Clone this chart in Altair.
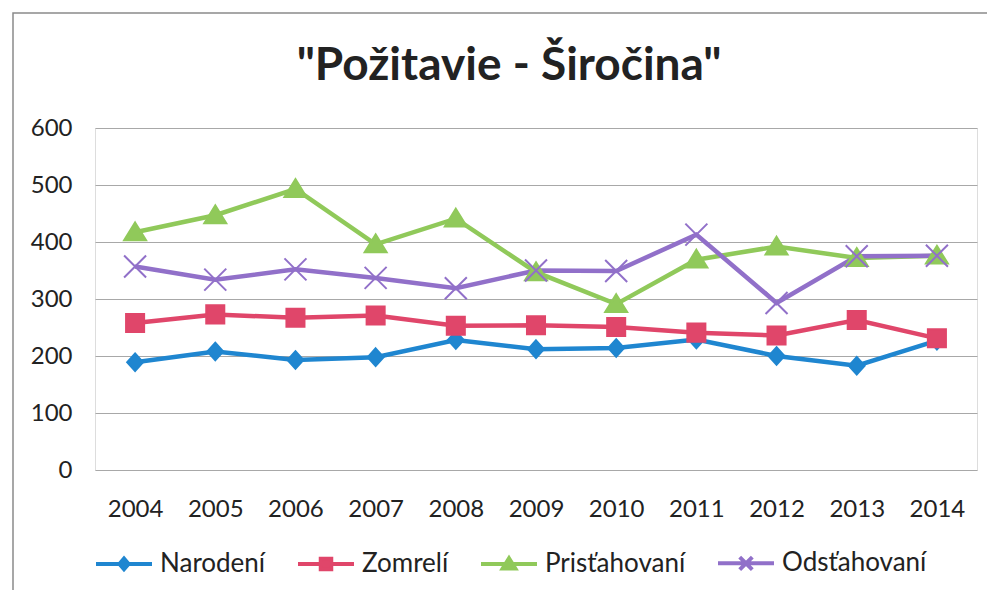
import altair as alt
import pandas as pd

years = ["2004", "2005", "2006", "2007", "2008", "2009", "2010", "2011", "2012", "2013", "2014"]
series = ["Narodení", "Zomrelí", "Prisťahovaní", "Odsťahovaní"]
narodeni = [189, 208, 193, 198, 228, 212, 214, 229, 200, 183, 227]
zomreli = [258, 273, 267, 271, 253, 254, 251, 241, 236, 263, 231]
pristahovani = [417, 447, 493, 396, 441, 347, 291, 369, 392, 372, 376]
odstahovani = [357, 334, 352, 337, 319, 350, 349, 413, 293, 375, 376]
y_ticks = [0, 100, 200, 300, 400, 500, 600]

colors = ["#1f86d0", "#e0466a", "#90c95a", "#9170c9"]

# marker shapes for data points (unit square -1..1)
point_shapes = [
    "M0,-0.8L0.72,0L0,0.8L-0.72,0Z",
    "M-0.82,-0.82L0.82,-0.82L0.82,0.82L-0.82,0.82Z",
    "M0,-0.9L1,0.72L-1,0.72Z",
    "M-1,-1L1,1M-1,1L1,-1",
]
# legend symbols: line segment with the marker in the middle
legend_shapes = [
    "M-4,0L4,0M0,-0.75L0.65,0L0,0.75L-0.65,0Z",
    "M-4,0L4,0M-0.75,-0.75L0.75,-0.75L0.75,0.75L-0.75,0.75Z",
    "M-4,0L4,0M0,-0.8L0.9,0.65L-0.9,0.65Z",
    "M-4,0L4,0M-0.9,-0.9L0.9,0.9M-0.9,0.9L0.9,-0.9",
]

rows = []
for name, vals in zip(series, [narodeni, zomreli, pristahovani, odstahovani]):
    for yr, v in zip(years, vals):
        rows.append({"rok": yr, "séria": name, "hodnota": v})
df = pd.DataFrame(rows)

x_enc = alt.X("rok:O", sort=years,
              scale=alt.Scale(type="point", padding=0.5),
              axis=alt.Axis(title=None, labelAngle=0, domain=False, ticks=False,
                            labelPadding=27, labelFont="Lato", labelFontSize=24,
                            labelColor="#222222", grid=False))
y_enc = alt.Y("hodnota:Q", scale=alt.Scale(domain=[0, 600], nice=False),
              axis=alt.Axis(title=None, values=y_ticks, domain=False, ticks=False,
                            labelPadding=23, labelFont="Lato", labelFontSize=24,
                            labelColor="#222222", grid=True, gridColor="#a8a8a8",
                            gridWidth=1))

base = alt.Chart(df)

lines = base.mark_line(strokeWidth=4.5).encode(
    x=x_enc, y=y_enc,
    color=alt.Color("séria:N", scale=alt.Scale(domain=series, range=colors), legend=None),
    detail="séria:N",
)

points = base.mark_point(filled=True, size=484, strokeWidth=2, opacity=1).encode(
    x=x_enc, y=y_enc,
    fill=alt.Fill("séria:N", scale=alt.Scale(domain=series, range=colors), legend=None),
    stroke=alt.Stroke("séria:N", scale=alt.Scale(domain=series, range=colors), legend=None),
    shape=alt.Shape("séria:N", scale=alt.Scale(domain=series, range=point_shapes), legend=None),
)

leg = alt.Legend(title=None, orient="none", direction="horizontal", columns=4,
                 legendX=16, legendY=422, labelFont="Lato", labelFontSize=26,
                 labelColor="#222222", labelOffset=23, columnPadding=24,
                 symbolStrokeWidth=4, symbolSize=196)

legend_layer = base.transform_filter("false").mark_point(filled=True, size=196, strokeWidth=4, opacity=1).encode(
    x=x_enc, y=y_enc,
    fill=alt.Fill("séria:N", scale=alt.Scale(domain=series, range=colors), legend=leg),
    stroke=alt.Stroke("séria:N", scale=alt.Scale(domain=series, range=colors), legend=leg),
    shape=alt.Shape("séria:N", scale=alt.Scale(domain=series, range=legend_shapes), legend=leg),
)

frame = alt.Chart(alt.Data(values=[{"f": 1}])).mark_rect(
    fill=None, stroke="#8a8a8a", strokeWidth=1.5, clip=False
).encode(
    x=alt.value(-82), x2=alt.value(1000), y=alt.value(-115), y2=alt.value(600)
)

chart = alt.layer(frame, lines, points, legend_layer).resolve_scale(
    fill="independent", stroke="independent", shape="independent"
).properties(
    width=882, height=342,
    title=alt.TitleParams('"Požitavie - Širočina"', font="Lato", fontSize=46,
                          fontWeight="bold", color="#222222", anchor="middle",
                          frame="group", dx=-27, dy=114, offset=36),
    autosize=alt.AutoSizeParams(type="none"),
    padding={"left": 87, "top": 120, "right": 10, "bottom": 120},
).configure_view(stroke=None).configure(background="white")

chart.save("out.html", embed_options={"renderer": "svg", "actions": False})
